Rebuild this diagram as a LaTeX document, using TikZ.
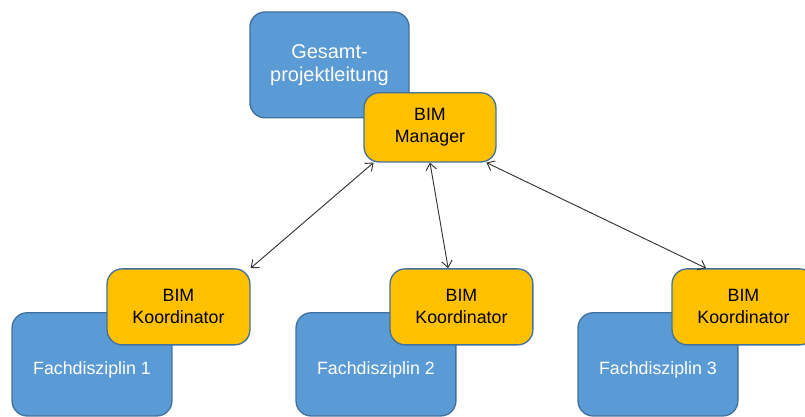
\documentclass[tikz,border=0pt]{standalone}
\usepackage{fontspec}
\setmainfont{Liberation Sans}
\usepackage{xcolor}
\usetikzlibrary{arrows.meta, positioning}

\definecolor{boxblue}{HTML}{5B9BD5}
\definecolor{boxedge}{HTML}{41719C}
\definecolor{boxyellow}{HTML}{FFC000}

\begin{document}
\begin{tikzpicture}[
    bluebox/.style={rectangle,draw=boxedge,fill=boxblue,line width=1pt,rounded corners=0.4cm,text=white,align=center,font=\fontsize{13.4}{16.5}\selectfont},
    fachbox/.style={bluebox,minimum width=4.23cm,minimum height=2.73cm,text height=19pt,text depth=3pt},
    yellowbox/.style={rectangle,draw=boxedge,fill=boxyellow,line width=1pt,rounded corners=0.4cm,text=black,align=center,minimum width=3.78cm,minimum height=2.01cm,font=\fontsize{13.4}{16.5}\selectfont},
    link/.style={{Straight Barb[length=5pt,width=8pt]}-{Straight Barb[length=5pt,width=8pt]},line width=0.7pt,draw=black!80}
]
    \useasboundingbox (0,0) rectangle (21.30,11.03);
    % top: project lead and BIM manager
    \node[bluebox,minimum width=4.21cm,minimum height=2.80cm,font=\fontsize{15}{17.5}\selectfont] (g) at (8.718,9.313) {Gesamt-\\projektleitung};
    \node[yellowbox,minimum width=3.49cm,minimum height=1.83cm] (m) at (11.377,7.660) {BIM\\Manager};
    % bottom: disciplines with their coordinators
    \node[fachbox] (f1) at (2.434,1.389) {Fachdisziplin 1};
    \node[yellowbox] (k1) at (4.723,2.910) {BIM\\Koordinator};
    \node[fachbox] (f2) at (9.948,1.389) {Fachdisziplin 2};
    \node[yellowbox] (k2) at (12.210,2.910) {BIM\\Koordinator};
    \node[fachbox] (f3) at (17.409,1.389) {Fachdisziplin 3};
    \node[yellowbox] (k3) at (19.672,2.910) {BIM\\Koordinator};
    % links
    \draw[link] (m.212.6) -- (k1.north east);
    \draw[link] (m.south) -- (k2.109);
    \draw[link] (m.-32) -- (k3.134.6);
\end{tikzpicture}
\end{document}
